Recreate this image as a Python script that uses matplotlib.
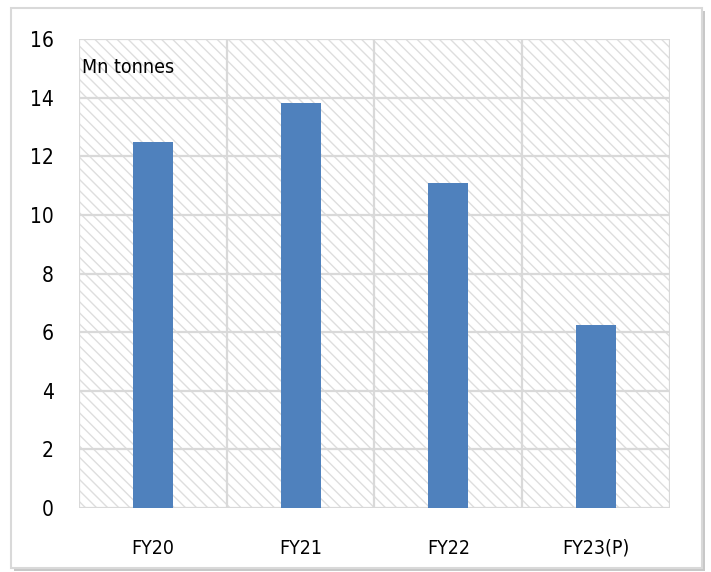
import matplotlib
matplotlib.use("Agg")
import matplotlib.pyplot as plt
from matplotlib.patches import Rectangle
import numpy as np

categories = ["FY20", "FY21", "FY22", "FY23(P)"]
values = [12.5, 13.8, 11.1, 6.25]
y_ticks = [0, 2, 4, 6, 8, 10, 12, 14, 16]
unit_label = "Mn tonnes"

plt.rcParams['font.family'] = ['DejaVu Sans']
plt.rcParams['font.stretch'] = 'condensed'
plt.rcParams['hatch.linewidth'] = 1.0

W, H = 711, 572
fig = plt.figure(figsize=(W / 100, H / 100), dpi=100)
fig.patch.set_facecolor("white")

# outer frame with a soft shadow at right and bottom
fig.patches.append(Rectangle((14 / W, 1 - 571 / H), 691 / W, 560 / H,
                             transform=fig.transFigure, facecolor="#c8c8c8",
                             edgecolor="none", zorder=-3))
fig.patches.append(Rectangle((11 / W, 1 - 568 / H), 691 / W, 560 / H,
                             transform=fig.transFigure, facecolor="white",
                             edgecolor="#d9d9d9", linewidth=1.5, zorder=-2))

ax = fig.add_axes([79 / W, 1 - 508 / H, 591 / W, 469 / H])
ax.set_facecolor("white")

# hatched plot background
ax.add_patch(Rectangle((0, 0), 1, 1, transform=ax.transAxes, facecolor="white",
                       edgecolor="#dedede", linewidth=0, hatch="\\\\\\",
                       zorder=0))

x = np.arange(len(categories))
ax.bar(x, values, width=0.27, color="#4F81BD", zorder=3)

ax.set_xlim(-0.5, len(categories) - 0.5)
ax.set_ylim(0, 16)
ax.set_yticks(y_ticks)
ax.set_yticklabels([str(t) for t in y_ticks], fontsize=15)
ax.set_xticks(x)
ax.set_xticklabels(categories, fontsize=14)
ax.tick_params(length=0)
ax.tick_params(axis="y", pad=18)
ax.tick_params(axis="x", pad=22)

# horizontal gridlines and category separators
for t in y_ticks:
    ax.axhline(t, color="#d9d9d9", linewidth=1.6, zorder=1)
for b in np.arange(-0.5, len(categories), 1.0):
    ax.axvline(b, color="#d9d9d9", linewidth=1.6, zorder=1)

for s in ax.spines.values():
    s.set_visible(False)

ax.text(0.005, 0.94, unit_label, transform=ax.transAxes, fontsize=14,
        ha="left", va="center", zorder=4)

fig.savefig("out.png", dpi=100)
